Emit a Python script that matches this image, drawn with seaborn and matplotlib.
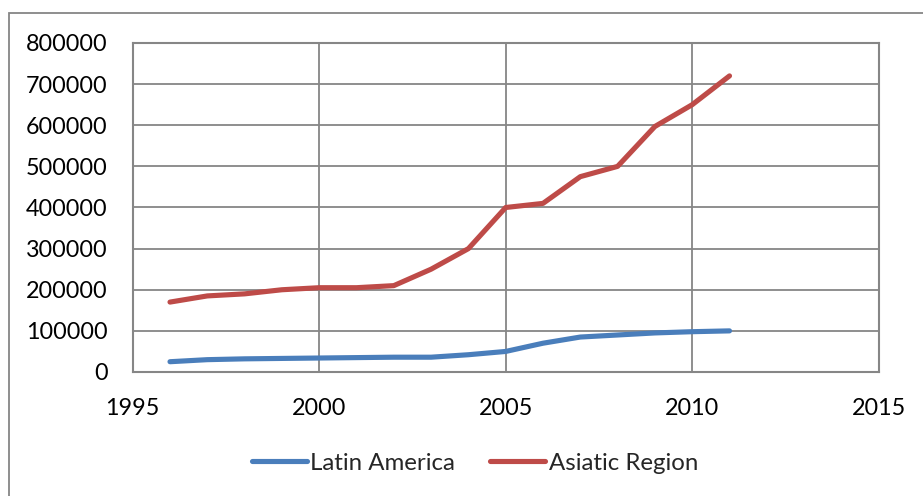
import matplotlib
matplotlib.use("Agg")
import matplotlib.pyplot as plt
from matplotlib.patches import Rectangle
import pandas as pd
import seaborn as sns

years = list(range(1996, 2012))
latin_america = [25000, 30000, 32000, 33000, 34000, 35000, 36000, 36000,
                 42000, 50000, 70000, 85000, 90000, 95000, 98000, 100000]
asiatic_region = [170000, 185000, 190000, 200000, 205000, 205000, 210000, 250000,
                  300000, 400000, 410000, 475000, 500000, 597000, 650000, 720000]
series_names = ["Latin America", "Asiatic Region"]
series_colors = ["#4A7EBB", "#BE4B48"]
y_ticks = list(range(0, 800001, 100000))
x_ticks = list(range(1995, 2016, 5))

df = pd.DataFrame({
    "year": years * 2,
    "value": latin_america + asiatic_region,
    "region": [series_names[0]] * len(years) + [series_names[1]] * len(years),
})

sns.set_style("white")
plt.rcParams["font.family"] = ["Lato", "DejaVu Sans"]

fig = plt.figure(figsize=(9.23, 4.96), dpi=100)
ax = fig.add_axes([132.7 / 923, 1 - 372 / 496, (878.7 - 132.7) / 923, (372 - 43) / 496])

sns.lineplot(data=df, x="year", y="value", hue="region", hue_order=series_names,
             palette=series_colors, linewidth=3.7, legend=False, ax=ax,
             solid_capstyle="round", solid_joinstyle="round")

grid_gray = "#868686"
ax.set_xlim(x_ticks[0], x_ticks[-1])
ax.set_ylim(y_ticks[0], y_ticks[-1])
ax.set_xticks(x_ticks)
ax.set_yticks(y_ticks)
ax.set_xticklabels([str(t) for t in x_ticks])
ax.set_yticklabels([str(t) for t in y_ticks])
ax.set_xlabel("")
ax.set_ylabel("")
ax.grid(True, color=grid_gray, linewidth=1.3)
ax.set_axisbelow(True)
for sp in ax.spines.values():
    sp.set_visible(True)
    sp.set_color(grid_gray)
    sp.set_linewidth(1.5)
ax.tick_params(axis="both", length=0, labelsize=16.8, colors="black")
ax.tick_params(axis="y", pad=18)
ax.tick_params(axis="x", pad=19)

# Outer chart-area frame
fig.patches.append(Rectangle((9 / 923, -0.05), 1.05, 1 - 13 / 496 + 0.05,
                             transform=fig.transFigure, fill=False,
                             edgecolor=grid_gray, linewidth=1.3))

fig.legend(ax.get_lines()[:2], series_names, loc="center",
           bbox_to_anchor=(475 / 923, 1 - 463 / 496), ncol=2, frameon=False,
           fontsize=17.3, handlelength=2.3, handletextpad=0.15,
           columnspacing=1.45)

fig.savefig("out.png", dpi=100)
